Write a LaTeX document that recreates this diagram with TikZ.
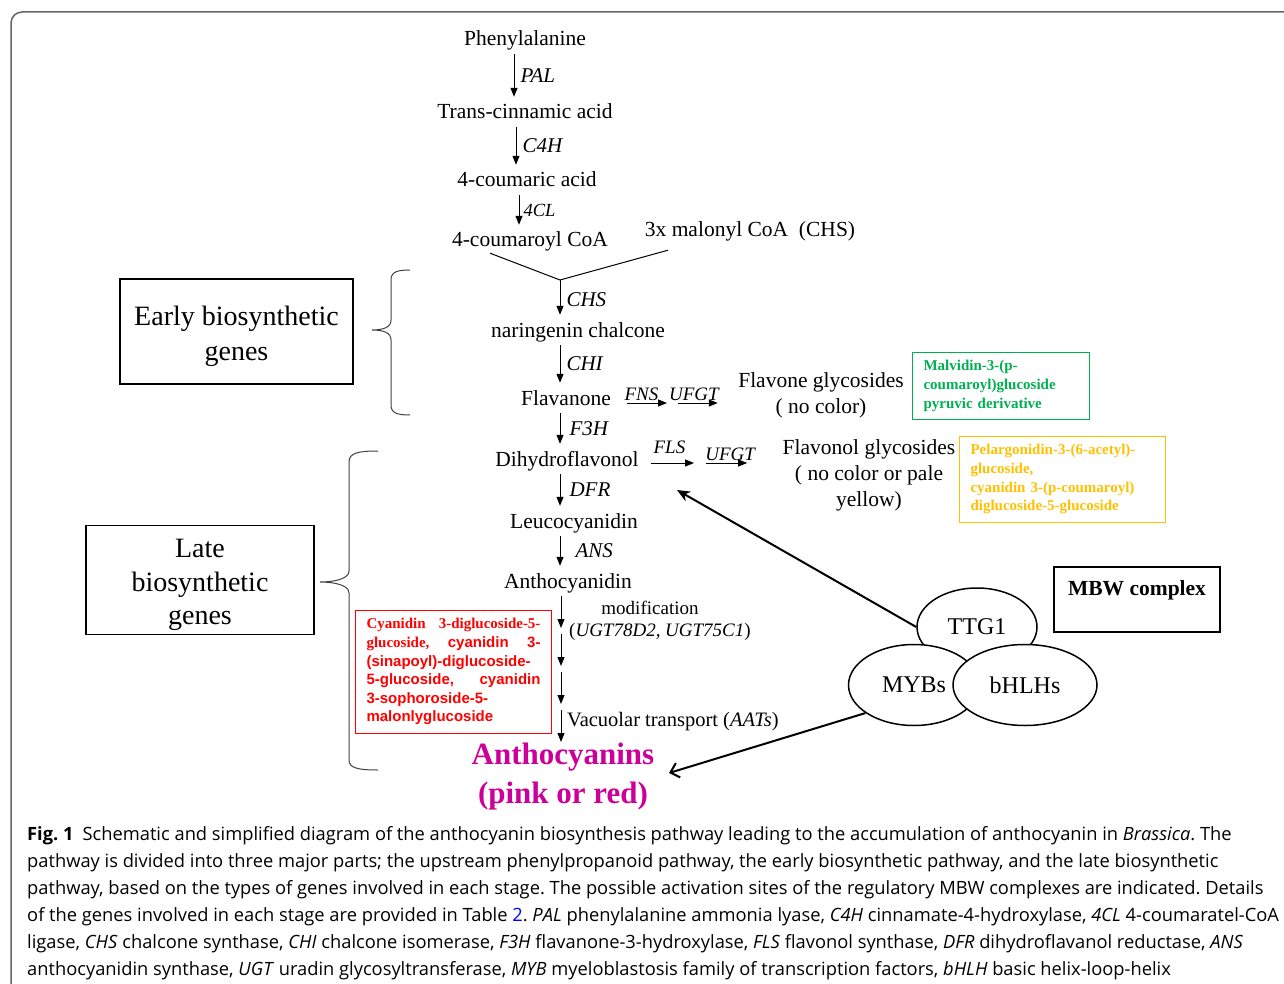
\documentclass[tikz,border=0pt]{standalone}
\usepackage{fontspec}
\setmainfont{Liberation Serif}
\setsansfont{Liberation Sans}
\newfontfamily\capfont{Open Sans}
\usetikzlibrary{arrows.meta,shapes.geometric}

\definecolor{hintgreen}{RGB}{0,176,80}
\definecolor{hintorange}{RGB}{255,192,0}
\definecolor{hintred}{RGB}{255,0,0}
\definecolor{anthpink}{RGB}{204,0,153}

\tikzset{
    met/.style={font=\fontsize{21.5}{26}\selectfont, inner sep=0pt, text height=17pt, text depth=3pt},
    gene/.style={font=\fontsize{21}{25}\selectfont\itshape, inner sep=6pt},
    smallgene/.style={font=\fontsize{19}{22}\selectfont\itshape, inner sep=1pt},
    flow/.style={-{Triangle[length=9pt,width=7pt]}, line width=1pt, shorten <=5pt, shorten >=5pt},
    hint/.style={draw, line width=1pt, align=left, inner xsep=11pt, inner ysep=8pt, anchor=north west,
        font=\fontsize{15}{18.6}\selectfont\bfseries},
    groupbox/.style={draw, line width=1.5pt, align=center},
    grouping/.style={line width=1pt, draw=black!75},
    factor/.style={ellipse, draw, line width=1.5pt, fill=white, inner sep=0pt, font=\fontsize{24}{28}\selectfont},
    mbw/.style={line width=2pt}
}

\begin{document}
\begin{tikzpicture}[x=1pt, y=-1pt]
    \useasboundingbox (0,0) rectangle (1284,984);

    % Frame
    \draw[black!60, line width=1.5pt, rounded corners=11pt] (11,1000) -- (11,12) -- (1300,12);

    % Upstream phenylpropanoid pathway
    \node[met] (phe) at (525,39) {Phenylalanine};
    \node[met] (tca) at (525,112) {Trans-cinnamic acid};
    \node[met] (cou) at (527,180) {4-coumaric acid};
    \node[met] (cca) at (530,240) {4-coumaroyl CoA};
    \node[met] (mal) at (750,230) {3x malonyl CoA\ \ (CHS)};

    \draw[flow] (phe.south -| 514,0) -- (tca.north -| 514,0) node[midway, right, gene] {PAL};
    \draw[flow] (tca.south -| 516,0) -- (cou.north -| 516,0) node[midway, right, gene] {C4H};
    \draw[flow] (cou.south -| 519,0) -- (cca.north -| 519,0)
        node[midway, right, gene, inner sep=4pt, font=\fontsize{18.5}{22}\selectfont\itshape] {4CL};

    % Merge with malonyl CoA
    \coordinate (join) at (560,280);
    \draw[line width=1pt] ([xshift=-40pt,yshift=-3pt]cca.south) -- (join) -- ([xshift=-82pt,yshift=-10pt]mal.south);

    % Early biosynthetic pathway
    \node[met] (chal) at (578,330) {naringenin chalcone};
    \node[met] (flav) at (566,398) {Flavanone};
    \node[met] (dhf) at (567,459) {Dihydroflavonol};

    \draw[flow, shorten <=0pt] (join) -- (chal.north -| join) node[midway, right, gene] {CHS};
    \draw[flow] (chal.south -| 560,0) -- (flav.north -| 560,0) node[midway, right, gene] {CHI};
    \draw[flow] (flav.south -| 560,0) -- (dhf.north -| 560,0) node[midway, right=3pt, gene] {F3H};

    % Side branches
    \node[align=center, font=\fontsize{21.5}{26}\selectfont] (fglyc) at (821,395) {Flavone glycosides\\( no color)};
    \node[align=center, font=\fontsize{21.5}{26}\selectfont] (flglyc) at (869,475) {Flavonol glycosides\\( no color or pale\\yellow)};
    \coordinate (fns) at (672,403);
    \coordinate (fls) at (700,463);
    \draw[flow, shorten <=16pt] ([yshift=-5pt]flav.east) -- (fns) node[midway, above=1pt, smallgene] {FNS};
    \draw[flow, shorten <=6pt, shorten >=17pt] (fns) -- (fglyc.west |- fns) node[pos=0.35, above=1pt, smallgene] {UFGT};
    \draw[flow, shorten <=12pt, shorten >=6pt] ([yshift=-4pt]dhf.east) -- (fls) node[midway, above=8pt, smallgene] {FLS};
    \draw[flow, shorten <=6pt, shorten >=32pt] (fls) -- (flglyc.west |- fls) node[pos=0.38, above=1pt, smallgene] {UFGT};

    % Example compounds
    \node[hint, draw=hintgreen, text=hintgreen, text width=155pt] (greenbox) at (912,352)
        {Malvidin-3-(p-\\coumaroyl)glucoside\\pyruvic derivative};
    \node[hint, draw=hintorange, text=hintorange, text width=184pt] (orangebox) at (959,436)
        {Pelargonidin-3-(6-acetyl)-\\glucoside,\\cyanidin 3-(p-coumaroyl)\\diglucoside-5-glucoside};

    % Late biosynthetic pathway
    \node[met] (leu) at (574,521) {Leucocyanidin};
    \node[met] (acy) at (568,581) {Anthocyanidin};
    \node[anchor=north, align=center, inner sep=0pt, text=anthpink, font=\fontsize{31}{39}\selectfont\bfseries] (anth)
        at (563,743) {Anthocyanins\\(pink or red)};

    \draw[flow] (dhf.south -| 560,0) -- (leu.north -| 560,0) node[midway, right=3pt, gene] {DFR};
    \draw[flow] (leu.south -| 560,0) -- (acy.north -| 560,0) node[midway, right=9pt, gene] {ANS};

    \coordinate (m1) at (561,631);
    \coordinate (m2) at (561,669);
    \coordinate (m3) at (561,707);
    \draw[flow, shorten >=3pt] (acy.south -| m1) -- (m1);
    \draw[flow, shorten <=3pt, shorten >=3pt] (m1) -- (m2);
    \draw[flow, shorten <=3pt, shorten >=3pt] (m2) -- (m3);
    \draw[flow, shorten <=3pt, shorten >=1pt] (m3) -- (anth.north -| m3);

    \node[font=\fontsize{19}{22}\selectfont] (modn) at (650,608) {modification};
    \node[anchor=west, inner sep=0pt, font=\fontsize{19}{22}\selectfont] (ugt) at (569,632) {(\textit{UGT78D2, UGT75C1})};
    \node[anchor=west, inner sep=0pt, font=\fontsize{20.5}{24}\selectfont] (vac) at (567,722) {Vacuolar transport (\textit{AATs})};

    \node[hint, draw=hintred, text=hintred, text width=174pt] (redbox) at (355,610)
        {Cyanidin\hfill 3-diglucoside-5-\\
         glucoside,\hfill {\sffamily cyanidin\hfill 3-}\\
         {\sffamily (sinapoyl)-diglucoside-}\\
         {\sffamily 5-glucoside,\hfill cyanidin}\\
         {\sffamily 3-sophoroside-5-}\\
         {\sffamily malonlyglucoside}};

    % Gene groups
    \node[groupbox, minimum width=233pt, minimum height=105pt, font=\fontsize{28}{35}\selectfont] (early)
        at (236.5,331.5) {\rule{0pt}{29pt}Early biosynthetic\\genes};
    \node[groupbox, minimum width=228pt, minimum height=106pt, font=\fontsize{28}{33.5}\selectfont] (late)
        at (200,580) {\rule{0pt}{29pt}Late\\biosynthetic\\genes};

    \draw[grouping] (410,270) .. controls (397,270) and (391,272) .. (391,280) -- (391,320)
        .. controls (391,327) and (384,330) .. (372,330) .. controls (384,330) and (391,333) .. (391,340)
        -- (391,405) .. controls (391,413) and (397,415) .. (410,415);
    \draw[grouping] (378,451) .. controls (358,451) and (349,453) .. (349,462) -- (349,571)
        .. controls (349,579) and (334,582) .. (320,582) .. controls (334,582) and (349,585) .. (349,593)
        -- (349,760) .. controls (349,768) and (358,770) .. (378,770);

    % MBW complex
    \node[draw, line width=1.2pt, minimum width=166pt, inner sep=6pt, text height=22pt, text depth=31pt,
        font=\fontsize{21.5}{26}\selectfont\bfseries] (mbw) at (1137,599.5) {MBW complex};
    \node[factor, minimum width=120pt, minimum height=78pt] (ttg) at (977,627) {TTG1};
    \node[factor, minimum width=131pt, minimum height=81pt] (myb) at (914,685) {MYBs};
    \node[factor, minimum width=144pt, minimum height=81pt] (bhlh) at (1025,685) {bHLHs};

    \coordinate (site1) at (677,490);
    \coordinate (site2) at (669,773);
    \draw[mbw, -{Stealth[length=13pt,width=11pt]}] (ttg.west) -- (site1);
    \draw[mbw, -{Straight Barb[length=8pt,width=15pt]}] (myb.210) -- (site2);

    % Caption
    \node[anchor=north west, align=left, inner sep=0pt, font=\capfont\fontsize{18.3}{27}\selectfont\frenchspacing] (cap) at (27,826)
        {\textbf{Fig. 1}\hspace{9pt}Schematic and simplified diagram of the anthocyanin biosynthesis pathway leading to the accumulation of anthocyanin in \textit{Brassica}. The\\
         pathway is divided into three major parts; the upstream phenylpropanoid pathway, the early biosynthetic pathway, and the late biosynthetic\\
         pathway, based on the types of genes involved in each stage. The possible activation sites of the regulatory MBW complexes are indicated. Details\\
         of the genes involved in each stage are provided in Table {\color{blue}2}. \textit{PAL} phenylalanine ammonia lyase, \textit{C4H} cinnamate-4-hydroxylase, \textit{4CL} 4-coumaratel-CoA\\
         ligase, \textit{CHS} chalcone synthase, \textit{CHI} chalcone isomerase, \textit{F3H} flavanone-3-hydroxylase, \textit{FLS} flavonol synthase, \textit{DFR} dihydroflavanol reductase, \textit{ANS}\\
         anthocyanidin synthase, \textit{UGT} uradin glycosyltransferase, \textit{MYB} myeloblastosis family of transcription factors, \textit{bHLH} basic helix-loop-helix};
\end{tikzpicture}
\end{document}
